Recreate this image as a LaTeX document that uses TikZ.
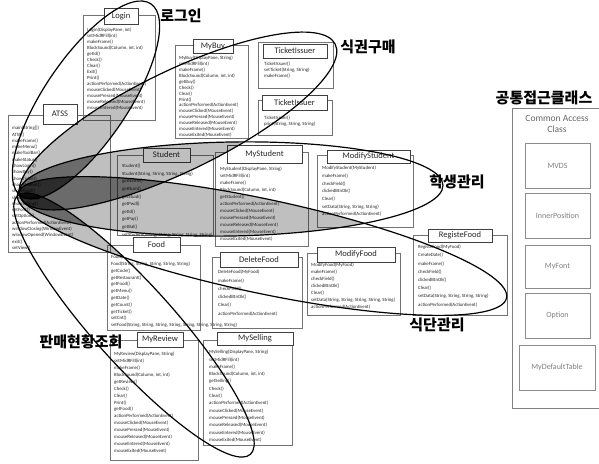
\documentclass[tikz,border=0pt]{standalone}
\usepackage{fontspec}
\newfontfamily\clsfont{Carlito}
\newfontfamily\krfont{Noto Sans CJK KR}
\def\pA{(86,100) ellipse [x radius=116, y radius=42]}
\def\pB{(178,121) ellipse [x radius=175, y radius=50]}
\def\pC{(231,189) ellipse [x radius=212, y radius=47]}
\def\pD{(262,246) ellipse [x radius=250, y radius=47]}
\def\pE{(134,325) ellipse [x radius=174, y radius=40]}
\begin{document}
\begin{tikzpicture}[x=1pt,y=-1pt,
  outer/.style={draw=black!55, line width=0.5pt, rectangle, inner sep=0pt},
  ttl/.style={draw=black!75, fill=white, line width=0.6pt, rectangle, inner sep=0pt,
    font=\clsfont\fontsize{8.5}{9}\selectfont, text=black!85},
  mth/.style={font=\clsfont\fontsize{4.8}{#1}\selectfont, align=left, anchor=north west,
    inner sep=0pt, text=black!85},
  mth/.default=6,
  cab/.style={draw=black!45, line width=0.6pt, rectangle, inner sep=0pt,
    font=\clsfont\fontsize{8}{9}\selectfont, text=black!50},
  kr/.style={font=\krfont\bfseries\fontsize{15}{15}\selectfont, inner sep=0pt},
  ell/.style={draw=black, line width=1.2pt},
  ov/.style={fill=black, opacity=0.25},
  eA/.style={rotate around={56:(86,100)}},
  eB/.style={rotate around={26:(178,121)}},
  eC/.style={rotate around={1:(231,189)}},
  eD/.style={rotate around={-12:(262,246)}},
  eE/.style={rotate around={-48:(134,325)}}]
\fill[white] (0,0) rectangle (599,463);
\useasboundingbox (0,0) rectangle (599,463);

% ---- class boxes ----
\node[outer, minimum width=72pt, minimum height=105pt] (login) at (119,67.5) {};
\node[ttl, minimum width=34pt, minimum height=16pt] (loginT) at (121,16) {Login};
\node[mth=6] (loginM) at (87,28) {Login(DisplayPane, int)\\setMidRFill(int)\\makeFrame()\\BlockSound(Column, int, int)\\getId()\\Check()\\Clear()\\Exit()\\Print()\\actionPerformed(ActionEvent)\\mouseClicked(MouseEvent)\\mousePressed(MouseEvent)\\mouseReleased(MouseEvent)\\mouseEntered(MouseEvent)};

\node[outer, minimum width=102pt, minimum height=137pt] (atss) at (59,183.5) {};
\node[ttl, minimum width=34pt, minimum height=20pt] (atssT) at (60,114) {ATSS};
\node[mth=6.3] (atssM) at (12,126) {main(String[])\\ATSS()\\makeFrame()\\makeMenu()\\makeToolBar()\\makeStatus()\\showLogin()\\showBuy()\\showTicket()\\showStudent()\\showFood()\\showReview()\\showSelling()\\setFont()\\setOption()\\actionPerformed(ActionEvent)\\windowClosing(WindowEvent)\\windowOpened(WindowEvent)\\exit()\\setView()};

\node[outer, minimum width=73pt, minimum height=93pt] (mybuy) at (211.5,91.5) {};
\node[ttl, minimum width=40pt, minimum height=14pt] (mybuyT) at (213,46) {MyBuy};
\node[mth=5.9] (mybuyM) at (179,56) {MyBuy(DisplayPane, String)\\setMidRFill(int)\\makeFrame()\\BlockSound(Column, int, int)\\getBuy()\\Check()\\Clear()\\Print()\\actionPerformed(ActionEvent)\\mouseClicked(MouseEvent)\\mousePressed(MouseEvent)\\mouseReleased(MouseEvent)\\mouseEntered(MouseEvent)\\mouseExited(MouseEvent)};

\node[outer, minimum width=75pt, minimum height=46pt] (tick) at (295.5,65) {};
\node[ttl, minimum width=64pt, minimum height=14pt] (tickT) at (295,51) {TicketIssuer};
\node[mth=6] (tickM) at (264,62) {TicketIssuer()\\setTicket(String, String)\\makeFrame()};

\node[outer, minimum width=74pt, minimum height=35pt] (tick2) at (295,117.5) {};
\node[ttl, minimum width=65pt, minimum height=15pt] (tick2T) at (294.5,102.5) {TicketIssuer};
\node[mth=6] (tick2M) at (264,116) {TicketIssuer()\\print(String, String, String)};

\node[outer, minimum width=96pt, minimum height=80pt] (stud) at (165,195) {};
\node[ttl, minimum width=47pt, minimum height=14pt] (studT) at (166.5,155) {Student};
\node[mth=7.6] (studM) at (122,164) {Student()\\Student(String, String, String, String)\\getName()\\getNum()\\getStuid()\\getPwd()\\getId()\\getPay()\\getBal()\\setStudent(String, String, String, String, String)};

\node[outer, minimum width=93pt, minimum height=94pt] (mystud) at (261.5,199) {};
\node[ttl, minimum width=75pt, minimum height=18pt] (mystudT) at (264.5,154) {MyStudent};
\node[mth=7] (mystudM) at (220,167) {MyStudent(DisplayPane, String)\\setMidRFill(int)\\makeFrame()\\BlockSound(Column, int, int)\\getStudent()\\actionPerformed(ActionEvent)\\mouseClicked(MouseEvent)\\mousePressed(MouseEvent)\\mouseReleased(MouseEvent)\\mouseEntered(MouseEvent)\\mouseExited(MouseEvent)};

\node[outer, minimum width=96pt, minimum height=72pt] (modstud) at (365,191) {};
\node[ttl, minimum width=83pt, minimum height=13pt] (modstudT) at (368.5,156.5) {ModifyStudent};
\node[mth=7.7] (modstudM) at (322,166) {ModifyStudent(MyStudent)\\makeFrame()\\checkField()\\clickedBtnOk()\\Clear()\\setData(String, String, String)\\actionPerformed(ActionEvent)};

\node[outer, minimum width=93pt, minimum height=85pt] (food) at (153.5,287.5) {};
\node[ttl, minimum width=47pt, minimum height=15pt] (foodT) at (156.5,244.5) {Food};
\node[mth=6.8] (foodM) at (111,255) {Food()\\Food(String, String, String, String, String)\\getCode()\\getRestaurant()\\getFood()\\getMenu()\\getDate()\\getCount()\\getTicket()\\setCnt()\\setFood(String, String, String, String, String, String, String, String)};

\node[outer, minimum width=90pt, minimum height=71pt] (delfood) at (257,292.5) {};
\node[ttl, minimum width=78pt, minimum height=15pt] (delfoodT) at (259,259.5) {DeleteFood};
\node[mth=8.3] (delfoodM) at (218,270) {DeleteFood(MyFood)\\makeFrame()\\checkField()\\clickedBtnOk()\\Clear()\\actionPerformed(ActionEvent)};

\node[outer, minimum width=93pt, minimum height=62pt] (modfood) at (353.5,284) {};
\node[ttl, minimum width=78pt, minimum height=15pt] (modfoodT) at (356,254.5) {ModifyFood};
\node[mth=7] (modfoodM) at (311,263) {ModifyFood(MyFood)\\makeFrame()\\checkField()\\clickedBtnOk()\\Clear()\\setData(String, String, String, String, String)\\actionPerformed(ActionEvent)};

\node[outer, minimum width=94pt, minimum height=80pt] (regfood) at (460,275) {};
\node[ttl, minimum width=64pt, minimum height=13pt] (regfoodT) at (460,235.5) {RegisteFood};
\node[mth=8.2] (regfoodM) at (418,245) {RegisteFood(MyFood)\\CreateDate()\\makeFrame()\\checkField()\\clickedBtnOk()\\Clear()\\setData(String, String, String, String)\\actionPerformed(ActionEvent)};

\node[outer, minimum width=88pt, minimum height=120pt] (review) at (154,400) {};
\node[ttl, minimum width=46pt, minimum height=15pt] (reviewT) at (160,339.5) {MyReview};
\node[mth=6.9] (reviewM) at (114,352) {MyReview(DisplayPane, String)\\setMidRFill(int)\\makeFrame()\\BlockSound(Column, int, int)\\getReview()\\Check()\\Clear()\\Print()\\getFood()\\actionPerformed(ActionEvent)\\mouseClicked(MouseEvent)\\mousePressed(MouseEvent)\\mouseReleased(MouseEvent)\\mouseEntered(MouseEvent)\\mouseExited(MouseEvent)};

\node[outer, minimum width=89pt, minimum height=105pt] (selling) at (247.5,392.5) {};
\node[ttl, minimum width=76pt, minimum height=13pt] (sellingT) at (255,338.5) {MySelling};
\node[mth=7.3] (sellingM) at (209,350) {MySelling(DisplayPane, String)\\setMidRFill(int)\\makeFrame()\\BlockSound(Column, int, int)\\getSelling()\\Check()\\Clear()\\actionPerformed(ActionEvent)\\mouseClicked(MouseEvent)\\mousePressed(MouseEvent)\\mouseReleased(MouseEvent)\\mouseEntered(MouseEvent)\\mouseExited(MouseEvent)};

% ---- common access class ----
\node[outer, draw=black!50, line width=0.8pt, minimum width=98pt, minimum height=300pt] (common) at (561,258) {};
\node[font=\clsfont\fontsize{9.5}{11}\selectfont, text=black!60, align=center] (commonT) at (557,124) {Common Access\\Class};
\node[cab, minimum width=65pt, minimum height=45pt] (mvds) at (557.5,165.5) {MVDS};
\node[cab, minimum width=65pt, minimum height=45pt] (inner) at (557.5,215.5) {InnerPosition};
\node[cab, minimum width=65pt, minimum height=43pt] (myfont) at (557.5,266.5) {MyFont};
\node[cab, minimum width=65pt, minimum height=45pt] (option) at (557.5,315.5) {Option};
\node[cab, minimum width=76pt, minimum height=45pt] (deftable) at (557,367.5) {MyDefaultTable};

% ---- overlap shading ----
\begin{scope}\clip[eA] \pA; \fill[ov,eB] \pB; \end{scope}
\begin{scope}\clip[eA] \pA; \fill[ov,eC] \pC; \end{scope}
\begin{scope}\clip[eA] \pA; \fill[ov,eD] \pD; \end{scope}
\begin{scope}\clip[eA] \pA; \fill[ov,eE] \pE; \end{scope}
\begin{scope}\clip[eB] \pB; \fill[ov,eC] \pC; \end{scope}
\begin{scope}\clip[eB] \pB; \fill[ov,eD] \pD; \end{scope}
\begin{scope}\clip[eB] \pB; \fill[ov,eE] \pE; \end{scope}
\begin{scope}\clip[eC] \pC; \fill[ov,eD] \pD; \end{scope}
\begin{scope}\clip[eC] \pC; \fill[ov,eE] \pE; \end{scope}
\begin{scope}\clip[eD] \pD; \fill[ov,eE] \pE; \end{scope}

% ---- ellipses ----
\draw[ell,eA] \pA;
\draw[ell,eB] \pB;
\draw[ell,eC] \pC;
\draw[ell,eD] \pD;
\draw[ell,eE] \pE;

% ---- labels ----
\node[kr] (lLogin) at (181,16) {로그인};
\node[kr] (lBuy) at (368,47) {식권구매};
\node[kr] (lCommon) at (544,98) {공통접근클래스};
\node[kr] (lStud) at (457,182) {학생관리};
\node[kr] (lFood) at (437,325) {식단관리};
\node[kr] (lSell) at (81,342) {판매현황조회};
\end{tikzpicture}
\end{document}
